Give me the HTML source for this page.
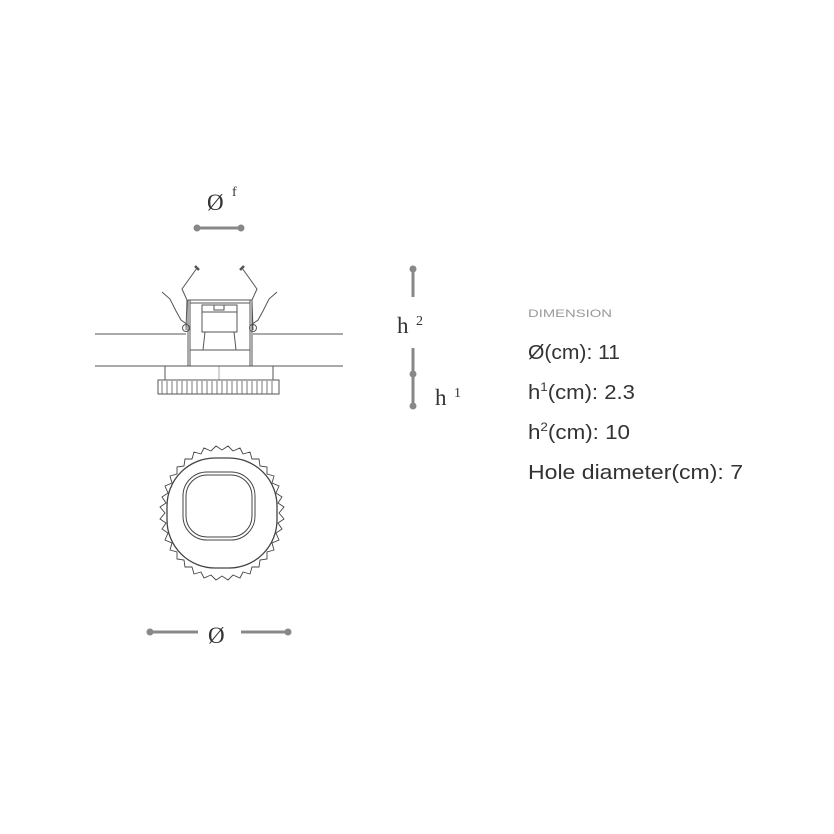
<!DOCTYPE html>
<html><head><meta charset="utf-8"><style>
html,body{margin:0;padding:0;background:#fff;}
svg{display:block;}
.t{font-family:"Liberation Sans",sans-serif;fill:#333;}
.s{font-family:"Liberation Serif",serif;fill:#333;}
</style></head><body>
<svg width="834" height="834" viewBox="0 0 834 834" xmlns="http://www.w3.org/2000/svg">
<rect width="834" height="834" fill="#fff"/>
<g stroke="#555" stroke-width="1" fill="none">
  <line x1="95" y1="334" x2="186" y2="334"/>
  <line x1="253" y1="334" x2="343" y2="334"/>
  <line x1="95" y1="366" x2="343" y2="366"/>
  <line x1="188" y1="300" x2="188" y2="366"/>
  <line x1="190" y1="300" x2="190" y2="366"/>
  <line x1="250" y1="300" x2="250" y2="366"/>
  <line x1="252" y1="300" x2="252" y2="366"/>
  <line x1="188" y1="300" x2="252" y2="300"/>
  <line x1="190" y1="303" x2="250" y2="303"/>
  <line x1="190" y1="350" x2="250" y2="350"/>
  <rect x="202" y="305" width="35" height="27"/>
  <line x1="202" y1="312" x2="237" y2="312"/>
  <rect x="214" y="305" width="10" height="5"/>
  <path d="M205 332 L203 350 M234 332 L236 350"/>
  <rect x="165" y="366" width="108" height="14"/>
  <line x1="219" y1="366" x2="219" y2="380" stroke-width="0.5"/>
  <rect x="158" y="380" width="121" height="14"/>
  <path d="M197 268 L182 289 L187 300 L186 330"/>
  <path d="M195 266 L199 270" stroke-width="2.5"/>
  <path d="M162 292 L170 299 L176 311 L181 320 L188 325"/>
  <circle cx="186" cy="328" r="3.5"/>
  <path d="M242 268 L257 289 L252 300 L253 330"/>
  <path d="M244 266 L240 270" stroke-width="2.5"/>
  <path d="M277 292 L269 299 L263 311 L258 320 L251 325"/>
  <circle cx="253" cy="328" r="3.5"/>
</g>
<g stroke="#555" stroke-width="0.8">
  <line x1="162" y1="381" x2="162" y2="394"/><line x1="167" y1="381" x2="167" y2="394"/><line x1="172" y1="381" x2="172" y2="394"/><line x1="177" y1="381" x2="177" y2="394"/><line x1="182" y1="381" x2="182" y2="394"/><line x1="187" y1="381" x2="187" y2="394"/><line x1="192" y1="381" x2="192" y2="394"/><line x1="197" y1="381" x2="197" y2="394"/><line x1="202" y1="381" x2="202" y2="394"/><line x1="207" y1="381" x2="207" y2="394"/><line x1="212" y1="381" x2="212" y2="394"/><line x1="217" y1="381" x2="217" y2="394"/><line x1="222" y1="381" x2="222" y2="394"/><line x1="227" y1="381" x2="227" y2="394"/><line x1="232" y1="381" x2="232" y2="394"/><line x1="237" y1="381" x2="237" y2="394"/><line x1="242" y1="381" x2="242" y2="394"/><line x1="247" y1="381" x2="247" y2="394"/><line x1="252" y1="381" x2="252" y2="394"/><line x1="257" y1="381" x2="257" y2="394"/><line x1="262" y1="381" x2="262" y2="394"/><line x1="267" y1="381" x2="267" y2="394"/><line x1="272" y1="381" x2="272" y2="394"/>
</g>
<g fill="none" stroke="#444">
  <path stroke-width="0.9" d="M279 513 L284 519 L278 523 L282 529 L276 533 L279 540 L272 543 L274 550 L267 552 L267 559 L260 560 L259 567 L252 567 L250 574 L243 572 L240 578 L233 575 L228 580 L222 576 L216 580 L211 575 L204 578 L201 572 L194 574 L192 567 L185 567 L184 560 L177 559 L177 552 L170 550 L172 543 L165 540 L168 533 L162 529 L166 523 L160 519 L165 513 L160 507 L166 503 L162 497 L168 493 L165 486 L172 483 L170 476 L177 474 L177 467 L184 466 L185 459 L192 459 L194 452 L201 454 L204 448 L211 451 L216 446 L222 450 L228 446 L233 451 L240 448 L243 454 L250 452 L252 459 L259 459 L260 466 L267 467 L267 474 L274 476 L272 483 L279 486 L276 493 L282 497 L278 503 L284 507 Z"/>
  <rect x="167" y="458" width="110" height="110" rx="48" stroke-width="1.3"/>
  <rect x="183" y="472" width="72" height="68" rx="24"/>
  <rect x="186" y="475" width="66" height="62" rx="21"/>
</g>
<g stroke="#888" stroke-width="3" fill="#888">
  <line x1="197" y1="228" x2="241" y2="228"/>
  <circle cx="197" cy="228" r="3.5" stroke="none"/><circle cx="241" cy="228" r="3.5" stroke="none"/>
  <line x1="413" y1="269" x2="413" y2="297"/>
  <circle cx="413" cy="269" r="3.5" stroke="none"/>
  <line x1="413" y1="348" x2="413" y2="406"/>
  <circle cx="413" cy="374" r="3.5" stroke="none"/><circle cx="413" cy="406" r="3.5" stroke="none"/>
  <line x1="150" y1="632" x2="198" y2="632"/>
  <line x1="241" y1="632" x2="288" y2="632"/>
  <circle cx="150" cy="632" r="3.5" stroke="none"/><circle cx="288" cy="632" r="3.5" stroke="none"/>
</g>
<text class="s" x="207" y="210" font-size="23">Ø</text>
<text class="s" x="232" y="196" font-size="14">f</text>
<text class="s" x="397" y="333" font-size="23">h</text>
<text class="s" x="416" y="325" font-size="14">2</text>
<text class="s" x="435" y="405" font-size="23">h</text>
<text class="s" x="454" y="397" font-size="14">1</text>
<text class="s" x="208" y="643" font-size="23">Ø</text>
<text class="t" x="528" y="317" font-size="11" style="fill:#999" textLength="84" lengthAdjust="spacingAndGlyphs">DIMENSION</text>
<text class="t" x="528" y="359" font-size="20" textLength="92" lengthAdjust="spacingAndGlyphs">Ø(cm): 11</text>
<text class="t" x="528" y="399" font-size="20" textLength="107" lengthAdjust="spacingAndGlyphs">h<tspan font-size="12" dy="-8">1</tspan><tspan dy="8">(cm): 2.3</tspan></text>
<text class="t" x="528" y="439" font-size="20" textLength="102" lengthAdjust="spacingAndGlyphs">h<tspan font-size="12" dy="-8">2</tspan><tspan dy="8">(cm): 10</tspan></text>
<text class="t" x="528" y="479" font-size="20" textLength="215" lengthAdjust="spacingAndGlyphs">Hole diameter(cm): 7</text>
</svg>
</body></html>
